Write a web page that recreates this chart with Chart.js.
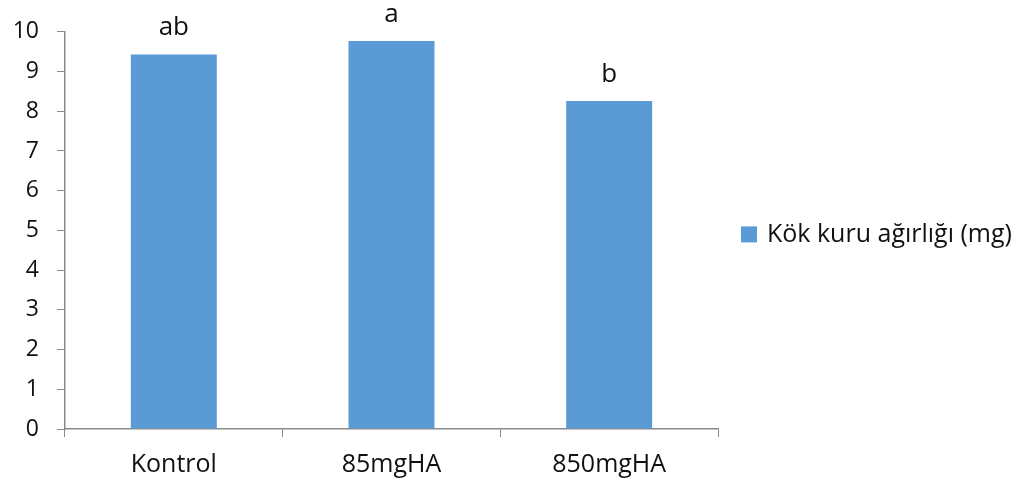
<!DOCTYPE html>
<html>
<head>
<meta charset="utf-8">
<script src="https://cdn.jsdelivr.net/npm/chart.js@4.4.1/dist/chart.umd.min.js"></script>
<style>
  html, body { margin: 0; padding: 0; background: #fff; }
  #wrap { width: 1021px; height: 487px; }
</style>
</head>
<body>
<div id="wrap"><canvas id="barChart" width="1021" height="487"></canvas></div>
<script>
// Kök kuru ağırlığı bar chart

const categories = ['Kontrol', '85mgHA', '850mgHA'];
const values = [9.43, 9.77, 8.26];
const groupLetters = ['ab', 'a', 'b'];
const seriesName = 'Kök kuru ağırlığı (mg)';
const yTicks = [0, 1, 2, 3, 4, 5, 6, 7, 8, 9, 10];

const fontFamily = '"Open Sans", "Noto Sans", sans-serif';
const axisColor = '#898989';
const textColor = '#111';
const barColor = '#5B9BD5';

// draws the significance letters above each bar
const letterPlugin = {
  id: 'letters',
  afterDatasetsDraw(chart) {
    const ctx = chart.ctx;
    const meta = chart.getDatasetMeta(0);
    ctx.save();
    ctx.font = '26px ' + fontFamily;
    ctx.fillStyle = textColor;
    ctx.textAlign = 'center';
    ctx.textBaseline = 'alphabetic';
    meta.data.forEach((bar, i) => {
      ctx.fillText(groupLetters[i], bar.x, bar.y - 19);
    });
    ctx.restore();
  }
};

// legend on the right, drawn by hand (built-in one is capped in width)
const sideLegend = {
  id: 'sideLegend',
  afterDraw(chart) {
    const ctx = chart.ctx;
    const area = chart.chartArea;
    const ds = chart.data.datasets[0];
    const x = area.right + 23;
    const y = (area.top + area.bottom) / 2 + 4;
    ctx.save();
    ctx.fillStyle = ds.backgroundColor;
    ctx.fillRect(x, y - 8, 16, 16);
    ctx.font = '25px ' + fontFamily;
    ctx.fillStyle = textColor;
    ctx.textAlign = 'left';
    ctx.textBaseline = 'middle';
    ctx.fillText(ds.label, x + 26, y);
    ctx.restore();
  }
};

new Chart(document.getElementById('barChart'), {
  type: 'bar',
  data: {
    labels: categories,
    datasets: [{
      label: seriesName,
      data: values,
      backgroundColor: barColor,
      borderWidth: 0,
      categoryPercentage: 1,
      barPercentage: 0.395,
    }]
  },
  plugins: [letterPlugin, sideLegend],
  options: {
    responsive: false,
    animation: false,
    layout: { padding: { top: 29, left: 0, right: 303, bottom: 0 } },
    plugins: {
      tooltip: { enabled: false },
      legend: { display: false }
    },
    scales: {
      x: {
        afterFit: (scale) => { scale.height = 58; },
        grid: {
          display: true,
          offset: true,
          drawOnChartArea: false,
          drawTicks: true,
          tickLength: 8,
          color: axisColor,
        },
        border: { display: true, color: axisColor, width: 1.5 },
        ticks: { color: textColor, font: { size: 25, family: fontFamily }, padding: 13 },
      },
      y: {
        min: 0,
        max: 10,
        afterBuildTicks: (axis) => { axis.ticks = yTicks.map(v => ({ value: v })); },
        afterFit: (scale) => { scale.width = 65; },
        grid: {
          display: true,
          drawOnChartArea: false,
          drawTicks: true,
          tickLength: 8,
          color: axisColor,
        },
        border: { display: true, color: axisColor, width: 1.5 },
        ticks: { color: textColor, font: { size: 23, family: fontFamily }, padding: 18 },
      }
    }
  }
});
</script>
</body>
</html>
